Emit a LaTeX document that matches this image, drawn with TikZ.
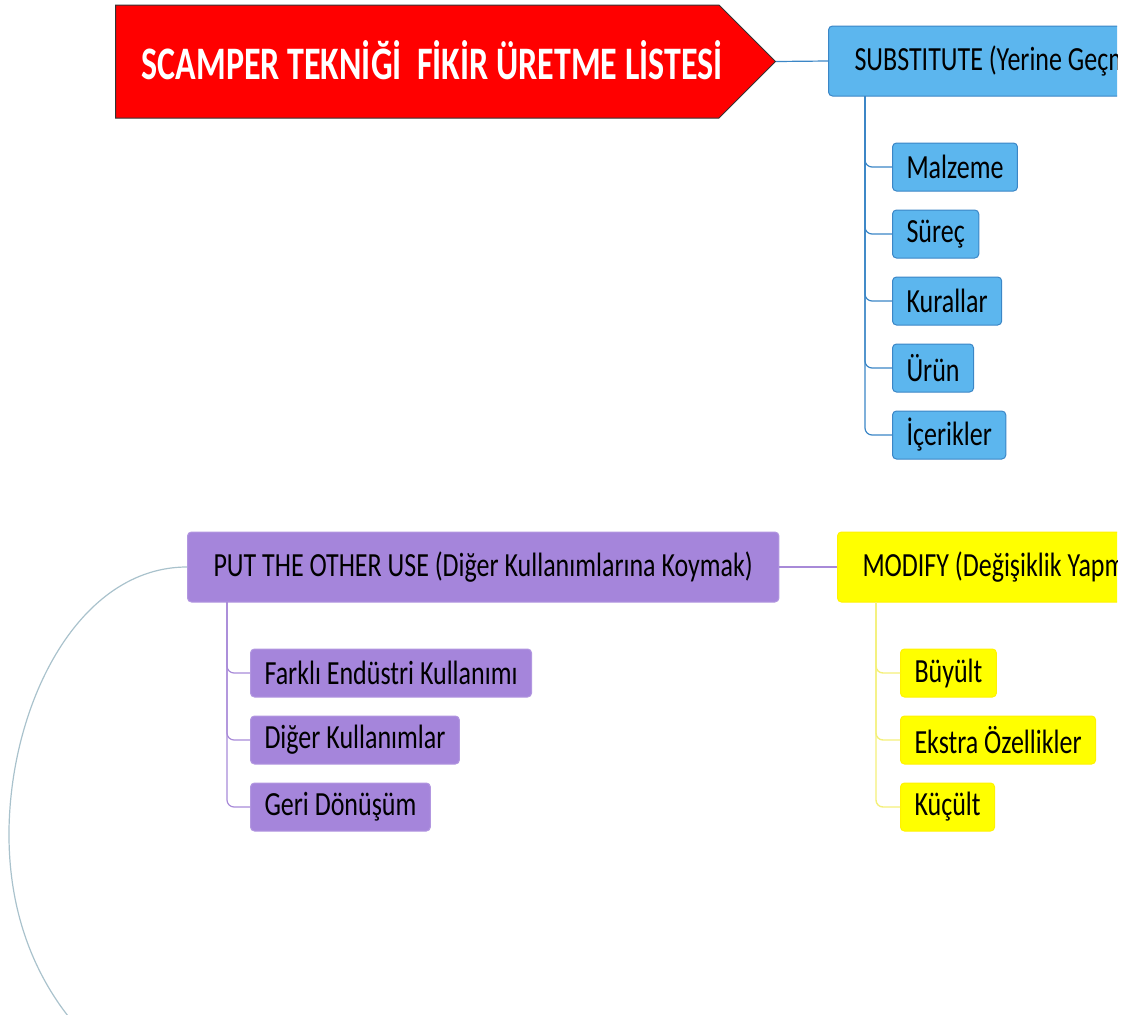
\documentclass[tikz,border=0pt]{standalone}
\usepackage{graphicx}
\usepackage{fontspec}
\setmainfont{Carlito}
\usetikzlibrary{shapes.symbols}
\definecolor{bluefill}{HTML}{5CB6EE}
\definecolor{blueline}{HTML}{3B86C6}
\definecolor{purpfill}{HTML}{A585DB}
\definecolor{purpline}{HTML}{A88AD8}
\definecolor{yelfill}{HTML}{FFFF00}
\definecolor{yelline}{HTML}{F4F07A}
\definecolor{curvecol}{HTML}{A9C2CC}
\newcommand\tx[1]{\scalebox{1}[1.3]{#1}}
\newcommand\ttx[1]{\scalebox{1}[1.37]{#1}}
\tikzset{
  box/.style={draw, rounded corners=4pt, anchor=west, inner xsep=14pt, inner ysep=0pt,
    font=\fontsize{26}{26}\selectfont, text=black},
  hdr/.style={box, minimum height=70pt, inner xsep=26pt},
  leaf/.style={box, minimum height=48pt},
  bl/.style={fill=bluefill, draw=blueline, line width=1pt},
  pu/.style={fill=purpfill, draw=purpfill!85!white, line width=1pt},
  ye/.style={fill=yelfill, draw=yelfill!90!orange, line width=1pt},
  blc/.style={draw=blueline, line width=1.2pt, rounded corners=7pt},
  puc/.style={draw=purpline, line width=1.2pt, rounded corners=7pt},
  yec/.style={draw=yelline, line width=1.4pt, rounded corners=7pt},
}
\begin{document}
\begin{tikzpicture}[x=1pt,y=-1pt]
\useasboundingbox (0,0) rectangle (1128,1015);
\begin{scope}
\clip (0,0) rectangle (1117,1015);
% title
\node[signal, signal to=east, signal pointer angle=90, fill=red, draw=black!80, line width=1pt,
  minimum width=660pt, minimum height=113pt, inner sep=0pt, anchor=west] (title) at (115,61.5) {};
\node[text=white, font=\bfseries\fontsize{34}{34}\selectfont, inner sep=0pt] (ttext) at (432,60)
  {\ttx{SCAMPER TEKNİĞİ\ \ FİKİR ÜRETME LİSTESİ}};
% substitute
\node[hdr, bl] (sub) at (828,61) {\tx{SUBSTITUTE (Yerine Geçmek)}};
\draw[blc] (title.east) -- (sub.west);
\node[leaf, bl] (mal) at (892,167) {\tx{Malzeme}};
\node[leaf, bl] (sur) at (892,234) {\tx{Süreç}};
\node[leaf, bl] (kur) at (892,301) {\tx{Kurallar}};
\node[leaf, bl] (uru) at (892,368) {\tx{Ürün}};
\node[leaf, bl] (ice) at (892,435) {\tx{İçerikler}};
\coordinate (sb) at (865,96);
\foreach \c in {mal,sur,kur,uru,ice} \draw[blc] (sb) |- (\c.west);
% put the other use
\node[hdr, pu] (put) at (187,567) {\tx{PUT THE OTHER USE (Diğer Kullanımlarına Koymak)}};
\node[hdr, ye, inner xsep=25pt] (mod) at (837,567) {\tx{MODIFY (Değişiklik Yapmak)}};
\draw[puc] (put.east) -- (mod.west);
\node[leaf, pu] (far) at (250,673) {\tx{Farklı Endüstri Kullanımı}};
\node[leaf, pu] (dig) at (250,740) {\tx{Diğer Kullanımlar}};
\node[leaf, pu] (ger) at (250,807) {\tx{Geri Dönüşüm}};
\coordinate (pb) at (227,602);
\foreach \c in {far,dig,ger} \draw[puc] (pb) |- (\c.west);
\node[leaf, ye] (buy) at (900,673) {\tx{Büyült}};
\node[leaf, ye] (eks) at (900,740) {\tx{Ekstra Özellikler}};
\node[leaf, ye] (kuc) at (900,807) {\tx{Küçült}};
\coordinate (mb) at (876,602);
\foreach \c in {buy,eks,kuc} \draw[yec] (mb) |- (\c.west);
% curve
\coordinate (cend) at (68,1016);
\draw[curvecol, line width=1.2pt] (put.west) .. controls (80,567) and (11,700) .. (9,830)
  .. controls (8,920) and (40,980) .. (cend);
\end{scope}
\end{tikzpicture}
\end{document}
